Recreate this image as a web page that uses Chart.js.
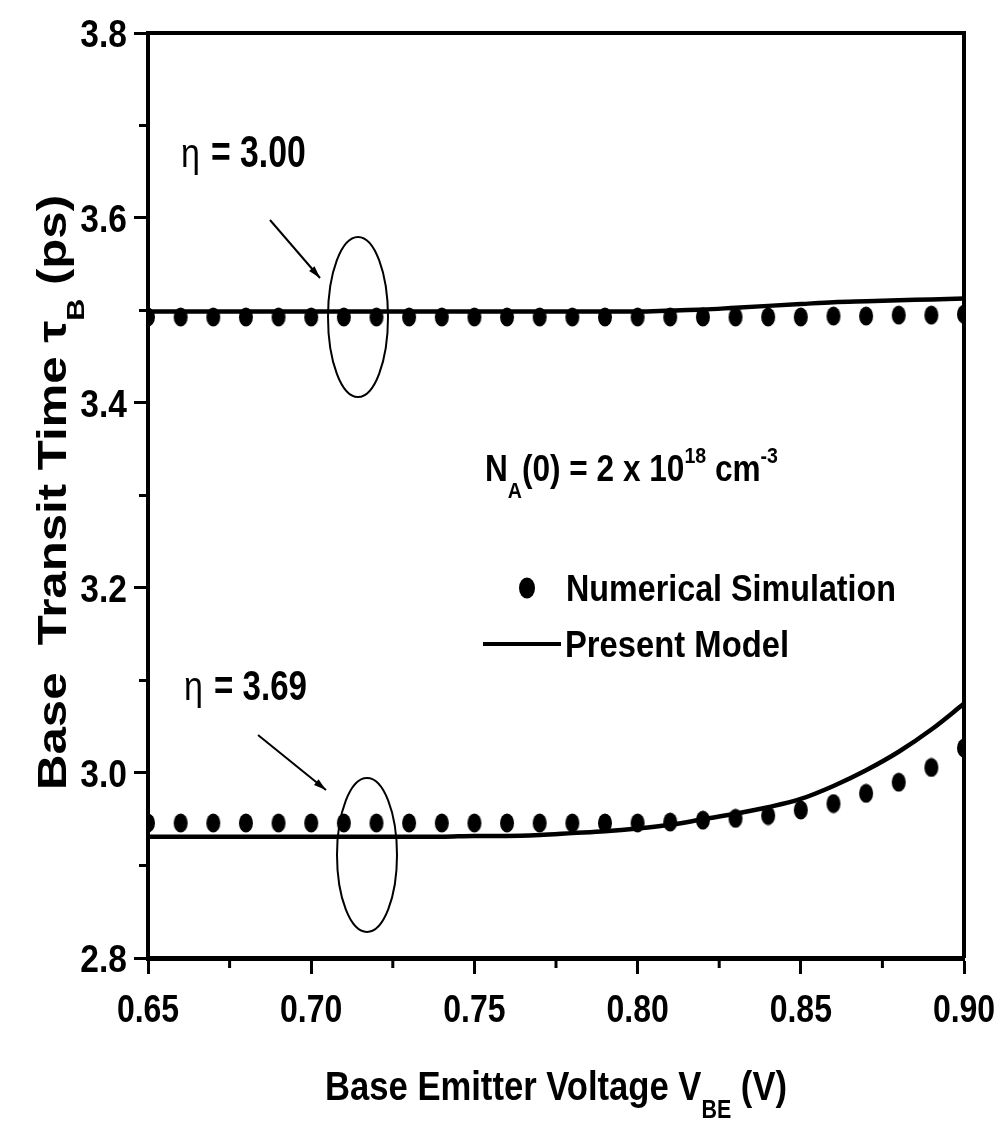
<!DOCTYPE html>
<html>
<head>
<meta charset="utf-8">
<script src="https://cdn.jsdelivr.net/npm/chart.js@4.4.0/dist/chart.umd.min.js"></script>
<style>
  html, body { margin: 0; padding: 0; background: #fff; }
  #chart { display: block; }
</style>
</head>
<body>
<canvas id="chart" width="1007" height="1134"></canvas>
<script>
// base emitter voltage (V)
const vbe = [0.65, 0.66, 0.67, 0.68, 0.69, 0.70, 0.71, 0.72, 0.73, 0.74, 0.75, 0.76, 0.77,
             0.78, 0.79, 0.80, 0.81, 0.82, 0.83, 0.84, 0.85, 0.86, 0.87, 0.88, 0.89, 0.90];

// eta = 3.00
const sim300 = [3.493, 3.493, 3.493, 3.493, 3.493, 3.493, 3.493, 3.493, 3.493, 3.493, 3.493, 3.493, 3.493,
                3.493, 3.493, 3.493, 3.493, 3.493, 3.493, 3.493, 3.493, 3.494, 3.494, 3.495, 3.495, 3.496];
const model300 = [3.499, 3.499, 3.499, 3.499, 3.499, 3.499, 3.499, 3.499, 3.499, 3.499, 3.499, 3.499, 3.499,
                  3.499, 3.499, 3.499, 3.500, 3.501, 3.503, 3.505, 3.507, 3.509, 3.510, 3.511, 3.512, 3.513];

// eta = 3.69
const sim369 = [2.946, 2.946, 2.946, 2.946, 2.946, 2.946, 2.946, 2.946, 2.946, 2.946, 2.946, 2.946, 2.946,
                2.946, 2.946, 2.946, 2.947, 2.949, 2.951, 2.954, 2.960, 2.967, 2.978, 2.990, 3.006, 3.027];
const model369 = [2.931, 2.931, 2.931, 2.931, 2.931, 2.931, 2.931, 2.931, 2.931, 2.931, 2.932, 2.932, 2.933,
                  2.935, 2.937, 2.940, 2.944, 2.950, 2.956, 2.963, 2.972, 2.986, 3.003, 3.023, 3.047, 3.075];

const xTicks = [0.65, 0.70, 0.75, 0.80, 0.85, 0.90];
const yTicks = [2.8, 3.0, 3.2, 3.4, 3.6, 3.8];

const sans = '"Liberation Sans", Arial, sans-serif';

function pts(ys) {
    return vbe.map((x, i) => ({ x: x, y: ys[i] }));
}

// slightly tall dot like the original markers
const dot = document.createElement('canvas');
dot.width = 16; dot.height = 20;
(function () {
    const c = dot.getContext('2d');
    c.fillStyle = '#000';
    c.beginPath();
    c.ellipse(8, 10, 7, 9.5, 0, 0, Math.PI * 2);
    c.fill();
})();

function simSet(ys) {
    return { data: pts(ys), showLine: false, pointStyle: dot, pointRadius: 8, backgroundColor: '#000', borderColor: '#000' };
}
function modelSet(ys) {
    return { data: pts(ys), showLine: true, pointRadius: 0, borderColor: '#000', borderWidth: 4.5, cubicInterpolationMode: 'monotone', fill: false };
}

// narrow bold text, squeezed horizontally (no Arial Narrow here)
function nText(ctx, str, x, y, size, sx, align) {
    ctx.save();
    ctx.font = 'bold ' + size + 'px ' + sans;
    ctx.textAlign = align || 'left';
    ctx.textBaseline = 'alphabetic';
    ctx.translate(x, y);
    ctx.scale(sx, 1);
    ctx.fillText(str, 0, 0);
    ctx.restore();
}

// text with sub/superscripts fitted to a width: parts = [[text, 'n'|'sub'|'sup'], ...]
function richText(ctx, parts, x, y, size, width) {
    let w = 0;
    parts.forEach(p => {
        ctx.font = 'bold ' + (p[1] === 'n' ? size : size * 0.62) + 'px ' + sans;
        w += ctx.measureText(p[0]).width;
    });
    const sx = width / w;
    ctx.save();
    ctx.translate(x, y);
    ctx.scale(sx, 1);
    ctx.textBaseline = 'alphabetic';
    ctx.textAlign = 'left';
    let cx = 0;
    parts.forEach(p => {
        let dy = 0, s = size;
        if (p[1] === 'sub') { s = size * 0.62; dy = size * 0.45; }
        if (p[1] === 'sup') { s = size * 0.62; dy = -size * 0.5; }
        ctx.font = 'bold ' + s + 'px ' + sans;
        ctx.fillText(p[0], cx, dy);
        cx += ctx.measureText(p[0]).width;
    });
    ctx.restore();
}

function arrow(ctx, x1, y1, x2, y2) {
    ctx.lineWidth = 2;
    ctx.beginPath();
    ctx.moveTo(x1, y1);
    ctx.lineTo(x2, y2);
    ctx.stroke();
    const a = Math.atan2(y2 - y1, x2 - x1);
    ctx.beginPath();
    ctx.moveTo(x2, y2);
    ctx.lineTo(x2 - 13 * Math.cos(a - 0.28), y2 - 13 * Math.sin(a - 0.28));
    ctx.lineTo(x2 - 13 * Math.cos(a + 0.28), y2 - 13 * Math.sin(a + 0.28));
    ctx.closePath();
    ctx.fill();
}

const decor = {
    id: 'decor',
    afterDraw(chart) {
        const ctx = chart.ctx;
        const a = chart.chartArea;
        const xs = chart.scales.x, ys = chart.scales.y;
        ctx.save();
        ctx.fillStyle = '#000';
        ctx.strokeStyle = '#000';

        // top and right frame
        ctx.lineWidth = 4;
        ctx.beginPath();
        ctx.moveTo(a.left, a.top);
        ctx.lineTo(a.right, a.top);
        ctx.lineTo(a.right, a.bottom);
        ctx.stroke();

        // minor ticks
        ctx.lineWidth = 3;
        for (let v = 0.675; v < 0.9; v += 0.05) {
            const px = xs.getPixelForValue(v);
            ctx.beginPath(); ctx.moveTo(px, a.bottom); ctx.lineTo(px, a.bottom + 10); ctx.stroke();
        }
        for (let v = 2.9; v < 3.8; v += 0.2) {
            const py = ys.getPixelForValue(v);
            ctx.beginPath(); ctx.moveTo(a.left, py); ctx.lineTo(a.left - 9, py); ctx.stroke();
        }

        // tick labels from the scales
        xs.ticks.forEach(t => nText(ctx, t.value.toFixed(2), xs.getPixelForValue(t.value), 1022, 39, 0.82, 'center'));
        ys.ticks.forEach(t => nText(ctx, t.value.toFixed(1), 127, ys.getPixelForValue(t.value) + 14, 39, 0.86, 'right'));

        // eta labels, arrows, ellipses
        ctx.save();
        ctx.font = '40px ' + sans;
        ctx.textBaseline = 'alphabetic';
        ctx.translate(181, 167); ctx.scale(0.85, 1); ctx.fillText('\u03b7', 0, 0);
        ctx.restore();
        ctx.save();
        ctx.font = '40px ' + sans;
        ctx.translate(184, 700); ctx.scale(0.85, 1); ctx.fillText('\u03b7', 0, 0);
        ctx.restore();
        nText(ctx, '= 3.00', 211, 167, 45, 0.75, 'left');
        nText(ctx, '= 3.69', 214, 700, 43, 0.77, 'left');

        arrow(ctx, 270, 220, 320, 278);
        arrow(ctx, 258, 735, 326, 790);

        ctx.lineWidth = 2;
        ctx.beginPath(); ctx.ellipse(358, 317, 30, 80, 0, 0, Math.PI * 2); ctx.stroke();
        ctx.beginPath(); ctx.ellipse(367, 855, 30, 77, 0, 0, Math.PI * 2); ctx.stroke();

        // doping note
        richText(ctx, [['N', 'n'], ['A', 'sub'], ['(0) = 2 x 10', 'n'], ['18', 'sup'], [' cm', 'n'], ['-3', 'sup']],
                 485, 481, 37, 293);

        // legend
        ctx.beginPath(); ctx.ellipse(527, 588, 8, 10.5, 0, 0, Math.PI * 2); ctx.fill();
        richText(ctx, [['Numerical Simulation', 'n']], 566, 601, 36, 330);
        ctx.lineWidth = 4;
        ctx.beginPath(); ctx.moveTo(483, 644); ctx.lineTo(561, 644); ctx.stroke();
        richText(ctx, [['Present Model', 'n']], 565, 657, 36, 224);

        // x title
        richText(ctx, [['Base Emitter Voltage V', 'n'], ['BE', 'sub'], [' (V)', 'n']], 325, 1100, 41, 462);

        // y title, rotated, read bottom to top
        ctx.translate(66, 790);
        ctx.rotate(-Math.PI / 2);
        richText(ctx, [['Base  Transit Time \u03c4', 'n'], ['B', 'sub'], [' (ps)', 'n']], 0, 0, 40, 595);
        ctx.restore();
    }
};

new Chart(document.getElementById('chart'), {
    type: 'scatter',
    data: {
        datasets: [simSet(sim300), modelSet(model300), simSet(sim369), modelSet(model369)]
    },
    options: {
        responsive: false,
        animation: false,
        devicePixelRatio: 1,
        layout: { padding: { left: 0, top: 33, right: 43, bottom: 0 } },
        plugins: { legend: { display: false }, tooltip: { enabled: false } },
        scales: {
            x: {
                type: 'linear', min: 0.65, max: 0.90,
                afterFit(s) { s.height = 176; },
                afterBuildTicks(s) { s.ticks = xTicks.map(v => ({ value: v })); },
                border: { display: true, color: '#000', width: 5 },
                grid: { drawOnChartArea: false, drawTicks: true, tickLength: 16, tickWidth: 3, tickColor: '#000' },
                ticks: { display: false }
            },
            y: {
                type: 'linear', min: 2.8, max: 3.8,
                afterFit(s) { s.width = 148; },
                afterBuildTicks(s) { s.ticks = yTicks.map(v => ({ value: v })); },
                border: { display: true, color: '#000', width: 4 },
                grid: { drawOnChartArea: false, drawTicks: true, tickLength: 14, tickWidth: 3, tickColor: '#000' },
                ticks: { display: false }
            }
        }
    },
    plugins: [decor]
});
</script>
</body>
</html>
